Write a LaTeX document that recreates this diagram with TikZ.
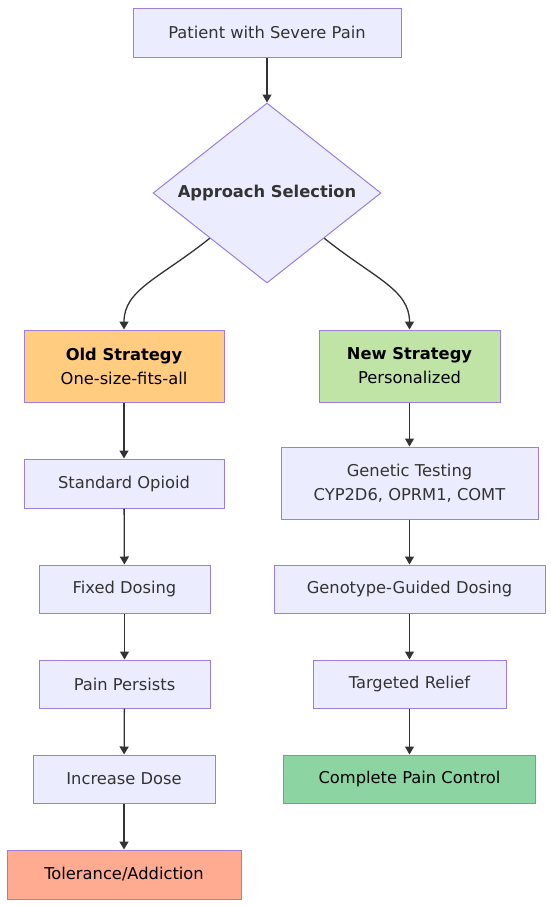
\documentclass[tikz,border=0pt]{standalone}
\usepackage{fontspec}
\setmainfont{DejaVu Sans}
\usetikzlibrary{positioning, arrows.meta, calc, shapes.geometric}
\usepackage{xcolor}
\definecolor{boxfill}{HTML}{ECECFF}
\definecolor{boxline}{HTML}{9D7EDD}
\definecolor{ink}{HTML}{333333}
\definecolor{oldfill}{HTML}{FFCC80}
\definecolor{newfill}{HTML}{C0E3A6}
\definecolor{goodfill}{HTML}{8CD5A3}
\definecolor{badfill}{HTML}{FFAB91}
\tikzset{
  box/.style={draw=boxline, line width=1pt, fill=boxfill, text=ink, align=center, inner sep=0pt},
  arr/.style={draw=ink, line width=1.3pt, -{Triangle[length=8pt,width=9pt]}},
}

\begin{document}
\begin{tikzpicture}[x=1pt, y=-1pt, font=\fontsize{16.3}{24}\selectfont]
  \useasboundingbox (0,0) rectangle (550,906);
  % top and decision
  \node[box, minimum width=268pt, minimum height=49pt] (patient) at (267,32.5) {Patient with Severe Pain};
  \node[box, diamond, aspect=1.27, minimum width=228pt, minimum height=180pt] (select) at (267,193) {\bfseries Approach Selection};
  % left branch
  \node[box, fill=oldfill, text=black, minimum width=200pt, minimum height=72pt] (old) at (124,366) {\textbf{Old Strategy}\\One-size-fits-all};
  \node[box, minimum width=200pt, minimum height=49pt] (opioid) at (124,483.5) {Standard Opioid};
  \node[box, minimum width=171pt, minimum height=48pt] (fixed) at (124.5,589) {Fixed Dosing};
  \node[box, minimum width=171pt, minimum height=48pt] (persist) at (124.5,684) {Pain Persists};
  \node[box, minimum width=182pt, minimum height=48pt] (increase) at (124,779) {Increase Dose};
  \node[box, fill=badfill, text=black, minimum width=234pt, minimum height=49pt] (tolerance) at (124,874.5) {Tolerance/Addiction};
  % right branch
  \node[box, fill=newfill, text=black, minimum width=181pt, minimum height=72pt] (new) at (409.5,366) {\textbf{New Strategy}\\Personalized};
  \node[box, minimum width=257pt, minimum height=72pt] (genetic) at (409.5,483) {Genetic Testing\\CYP2D6, OPRM1, COMT};
  \node[box, minimum width=271pt, minimum height=48pt] (guided) at (409.5,589) {Genotype-Guided Dosing};
  \node[box, minimum width=193pt, minimum height=48pt] (relief) at (409.5,684) {Targeted Relief};
  \node[box, fill=goodfill, text=black, minimum width=252pt, minimum height=48pt] (control) at (409.5,779) {Complete Pain Control};
  % connectors
  \draw[arr] (patient) -- (select);
  \draw[arr] (select.south west) .. controls +(-50,40) and +(0,-40) .. (old.north);
  \draw[arr] (select.south east) .. controls +(50,40) and +(0,-40) .. (new.north);
  \draw[arr] (old) -- (opioid);
  \draw[arr] (opioid) -- (fixed);
  \draw[arr] (fixed) -- (persist);
  \draw[arr] (persist) -- (increase);
  \draw[arr] (increase) -- (tolerance);
  \draw[arr] (new) -- (genetic);
  \draw[arr] (genetic) -- (guided);
  \draw[arr] (guided) -- (relief);
  \draw[arr] (relief) -- (control);
\end{tikzpicture}
\end{document}
